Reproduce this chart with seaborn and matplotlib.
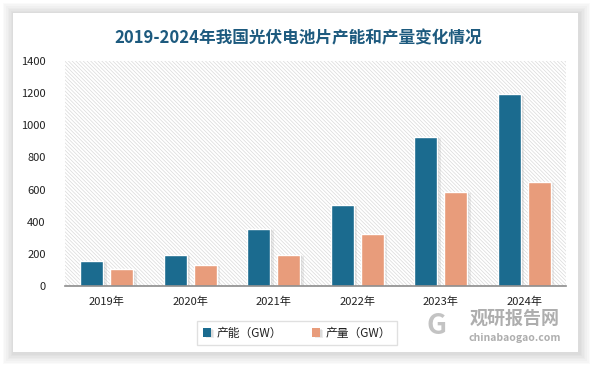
import matplotlib
matplotlib.use("Agg")
import matplotlib.pyplot as plt
import matplotlib.patheffects as pe
from matplotlib.patches import Rectangle
import pandas as pd
import seaborn as sns

# ---- data ----
years = ["2019年", "2020年", "2021年", "2022年", "2023年", "2024年"]
capacity = [157, 195, 356, 505, 929, 1193]    # 产能（GW）
output = [104, 131, 195, 324, 587, 649]       # 产量（GW）
series_names = ["产能（GW）", "产量（GW）"]
yticks = [0, 200, 400, 600, 800, 1000, 1200, 1400]

TITLE = "2019-2024年我国光伏电池片产能和产量变化情况"
BLUE = "#1b6b8f"
ORANGE = "#e89c7b"
TITLE_COLOR = "#1d5a7e"

df = pd.DataFrame({
    "year": years * 2,
    "value": capacity + output,
    "series": [series_names[0]] * len(years) + [series_names[1]] * len(years),
})

sns.set_theme(style="white")
plt.rcParams["font.family"] = ["Noto Sans CJK SC", "DejaVu Sans"]
plt.rcParams["hatch.linewidth"] = 0.5

fig = plt.figure(figsize=(5.94, 3.66), dpi=100, facecolor="white")

# soft card shadow + white card (kept under the axes)
for i in range(7):
    d = (i + 1) * 1.6
    fig.patches.append(Rectangle(((13 - d + 1) / 594, (14 - d - 1) / 366),
                                 (565 + 2 * d) / 594, (339 + 2 * d) / 366,
                                 transform=fig.transFigure, facecolor="black",
                                 alpha=0.018, linewidth=0, zorder=-2))
fig.patches.append(Rectangle((13 / 594, 14 / 366), 565 / 594, 339 / 366,
                             transform=fig.transFigure, facecolor="white",
                             linewidth=0, zorder=-1))

ax = fig.add_axes([65 / 594, 1 - 286 / 366, 501 / 594, 225 / 366])
ax.set_facecolor("none")
ax.set_zorder(1)

# hatched plot background
ax.add_patch(Rectangle((0, 0), 1, 1, transform=ax.transAxes, facecolor="white",
                       edgecolor="#dadada", hatch="\\" * 9, linewidth=0, zorder=0))

sns.barplot(data=df, x="year", y="value", hue="series", palette=[BLUE, ORANGE],
            saturation=1, width=0.71, gap=0.225, edgecolor="white", linewidth=1.0,
            ax=ax, zorder=2)

# soft drop shadow around each bar
for p in ax.patches[1:]:
    p.set_path_effects([pe.SimplePatchShadow(offset=(2.5, -1), shadow_rgbFace="#999999", alpha=0.18),
                        pe.SimplePatchShadow(offset=(1.2, -0.5), shadow_rgbFace="#999999", alpha=0.2),
                        pe.Normal()])

ax.set_xlim(-0.5, 5.5)
ax.set_ylim(0, 1400)
ax.set_yticks(yticks)
ax.set_xlabel("")
ax.set_ylabel("")
for s in ["left", "right", "top"]:
    ax.spines[s].set_visible(False)
ax.spines["bottom"].set_color("#8c8c8c")
ax.spines["bottom"].set_linewidth(1.2)
ax.tick_params(axis="both", length=0, labelsize=8, colors="#222222")
ax.tick_params(axis="y", pad=14)
ax.tick_params(axis="x", pad=8)

handles, labels = ax.get_legend_handles_labels()
ax.get_legend().remove()
leg = fig.legend(handles, labels, loc="center", bbox_to_anchor=(297 / 594, 1 - 333 / 366),
                 ncol=2, frameon=True, fancybox=False, fontsize=8.5, handlelength=0.7,
                 handleheight=0.7, columnspacing=2.5, handletextpad=0.5,
                 borderpad=0.5)
leg.get_frame().set_edgecolor("#d9d9d9")
leg.get_frame().set_linewidth(1.0)
for h in leg.legend_handles:
    h.set_edgecolor("none")
for t in leg.get_texts():
    t.set_color("#222222")

fig.text(298 / 594, 1 - 38 / 366, TITLE, ha="center", va="center",
         fontsize=12, fontweight="bold", color=TITLE_COLOR)

# watermark
fig.text(515 / 594, 1 - 318 / 366, "观研报告网", ha="center", va="center",
         fontsize=13, fontweight="bold", color="#9a9a9a", alpha=0.8)
fig.text(515 / 594, 1 - 338 / 366, "chinabaogao.com", ha="center", va="center",
         fontsize=7.5, fontweight="bold", color="#9a9a9a", alpha=0.8)
fig.text(437 / 594, 1 - 326 / 366, "G", ha="center", va="center",
         fontsize=20, fontweight="bold", color="#b5b5b5", alpha=0.8)

fig.savefig("out.png", dpi=100, facecolor=fig.get_facecolor())
